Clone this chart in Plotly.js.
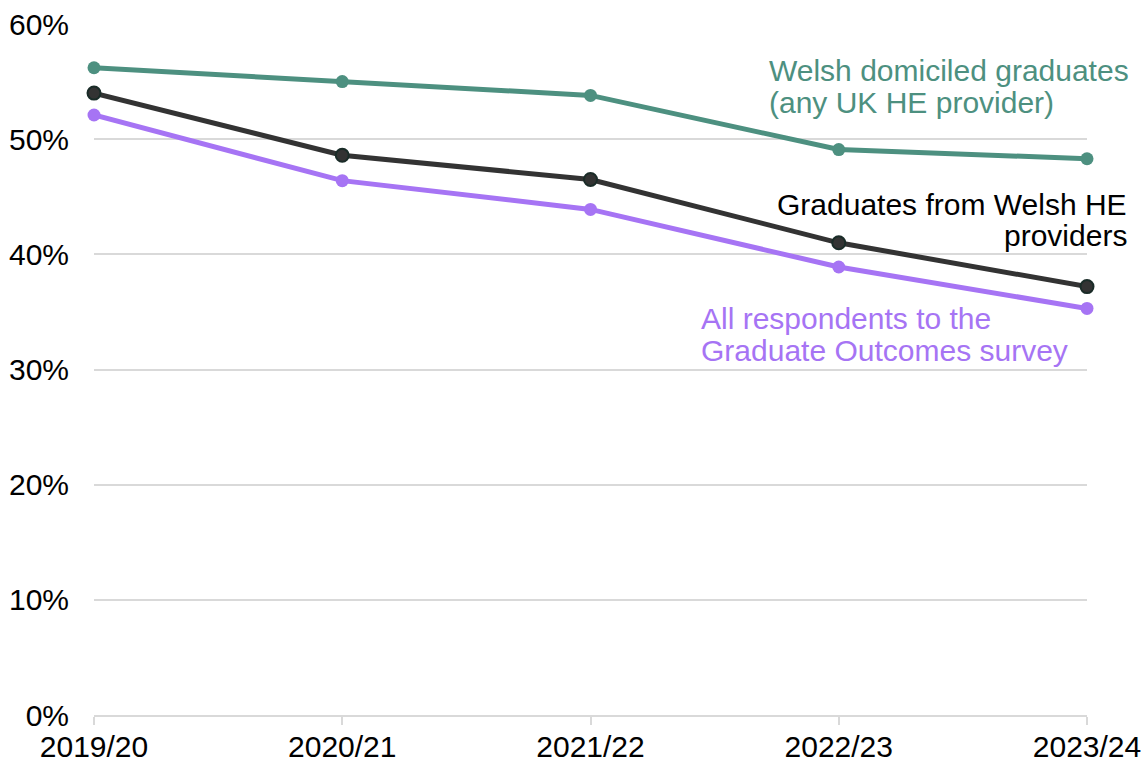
<!DOCTYPE html>
<html>
<head>
<meta charset="utf-8">
<script src="https://cdn.plot.ly/plotly-3.0.1.min.js"></script>
<style>html,body{margin:0;padding:0;background:#fff;}#chart{width:1145px;height:764px;}</style>
</head>
<body>
<div id="chart"></div>
<script>
const years = ["2019/20", "2020/21", "2021/22", "2022/23", "2023/24"];
const welshDomiciled = [56.2, 55.0, 53.8, 49.1, 48.3];
const welshProviders = [54.0, 48.6, 46.5, 41.0, 37.2];
const allRespondents = [52.1, 46.4, 43.9, 38.9, 35.3];
const yTicks = [0, 10, 20, 30, 40, 50, 60];
const yTickText = ["0%", "10%", "20%", "30%", "40%", "50%", "60%"];

const FONT = "Liberation Sans, Arial, sans-serif";
const FS = 30;
const teal = "#4d9080", dark = "#333333", purple = "#a674f4";

function series(y, color, mfill, mline) {
  return {
    x: years, y: y, type: "scatter", mode: "lines+markers",
    line: {color: color, width: 5},
    marker: {color: mfill || color, size: 13, line: {color: mline || color, width: mline ? 2 : 0}},
    hoverinfo: "skip", cliponaxis: false
  };
}

const data = [
  series(welshDomiciled, teal),
  series(welshProviders, dark, "#333333", "#1a2c28"),
  series(allRespondents, purple)
];

function label(text, x, y, anchor, color) {
  return {x: x, y: y, xref: "paper", yref: "paper", xanchor: anchor, yanchor: "middle",
          align: anchor, showarrow: false, text: text,
          font: {family: FONT, size: FS, color: color}};
}

// plot area: x 94..1087 px, y 24..715 px
function px(xp) { return (xp - 94) / 993; }
function py(yp) { return (715 - yp) / 691; }

const layout = {
  width: 1145, height: 764,
  margin: {l: 94, r: 58, t: 24, b: 49},
  paper_bgcolor: "#fff", plot_bgcolor: "#fff",
  showlegend: false,
  font: {family: FONT, size: FS, color: "#000"},
  xaxis: {
    type: "category", range: [0, 4], showgrid: false, zeroline: false,
    showline: true, linecolor: "#d9d9d9", linewidth: 2,
    ticks: "outside", ticklen: 8, tickwidth: 2, tickcolor: "#d9d9d9",
    ticklabelstandoff: -4,
    tickfont: {family: FONT, size: FS, color: "#000"}, fixedrange: true
  },
  yaxis: {
    range: [0, 60], tickvals: yTicks, ticktext: yTickText,
    showgrid: true, gridcolor: "#d9d9d9", gridwidth: 2,
    zeroline: false, showline: false, ticks: "",
    ticklabelstandoff: 24,
    tickfont: {family: FONT, size: FS, color: "#000"}, fixedrange: true
  },
  annotations: [
    label("Welsh domiciled graduates", px(767), py(71), "left", teal),
    label("(any UK HE provider)", px(767), py(103), "left", teal),
    label("Graduates from Welsh HE", px(1129), py(204), "right", "#000"),
    label("providers", px(1129), py(236), "right", "#000"),
    label("All respondents to the", px(699), py(318), "left", purple),
    label("Graduate Outcomes survey", px(699), py(350), "left", purple)
  ]
};

Plotly.newPlot("chart", data, layout, {displayModeBar: false, staticPlot: true});
</script>
</body>
</html>
